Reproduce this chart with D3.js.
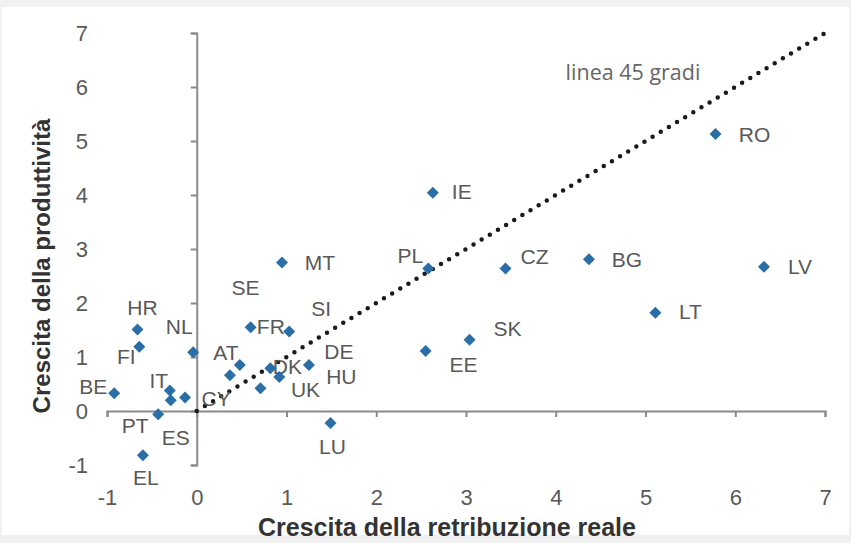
<!DOCTYPE html>
<html lang="it">
<head>
<meta charset="utf-8">
<title>Crescita della retribuzione reale e della produttività</title>
<script src="https://d3js.org/d3.v7.min.js"></script>
<style>
  body { margin: 0; background: #fff; }
  svg { display: block; font-family: "Liberation Sans", Arial, sans-serif; }
</style>
</head>
<body>
<svg width="851" height="543"></svg>
<script>
// country codes and values
var countries = ["RO","IE","PL","CZ","BG","LV","LT","SK","EE","MT","SE","FR","SI","AT","DK","DE","HU","UK","HR","FI","NL","BE","IT","ES","CY","PT","EL","LU"];
var wageGrowth = [5.78,2.63,2.58,3.44,4.37,6.32,5.11,3.04,2.55,0.95,0.60,0.48,1.03,0.37,0.82,1.25,0.92,0.71,-0.66,-0.64,-0.04,-0.92,-0.30,-0.29,-0.13,-0.43,-0.60,1.49];
var productivityGrowth = [5.13,4.04,2.64,2.64,2.81,2.67,1.82,1.32,1.11,2.75,1.55,0.85,1.47,0.66,0.79,0.85,0.63,0.42,1.51,1.19,1.09,0.33,0.38,0.20,0.25,-0.06,-0.82,-0.22];
var xTicks = [-1,0,1,2,3,4,5,6,7];
var yTicks = [-1,0,1,2,3,4,5,6,7];

// where each label sits relative to its marker (px)
var labelOffset = {
  RO:[39,1], IE:[29,-1], PL:[-18,-13], CZ:[29,-12], BG:[38,0], LV:[36,0], LT:[35,-1],
  SK:[38,-11], EE:[38,14], MT:[38,0], SE:[-5,-40], FR:[31,-38], SI:[32,-23], AT:[-4,-23],
  DK:[17,-2], DE:[30,-13], HU:[62,0], UK:[45,1], HR:[5,-22], FI:[-13,10], NL:[-14,-25],
  BE:[-21,-7], IT:[-11,-10], ES:[5,37], CY:[31,1], PT:[-23,11], EL:[3,22], LU:[2,24]
};

var data = countries.map(function(c, i) {
  return { name: c, x: wageGrowth[i], y: productivityGrowth[i] };
});

var svg = d3.select("svg");

// faint frame like the scanned original
svg.append("rect").attr("width", 851).attr("height", 543).attr("fill", "#f1f1f1");
svg.append("rect").attr("x", 2).attr("y", 7).attr("width", 847).attr("height", 528).attr("fill", "#fff");

var x = d3.scaleLinear().domain([-1, 7]).range([107, 825]);
var y = d3.scaleLinear().domain([-1, 7]).range([465, 33]);

// axes crossing at the origin
var xAxis = svg.append("g")
  .attr("transform", "translate(0," + y(0) + ")")
  .call(d3.axisBottom(x).tickValues(xTicks).tickFormat("").tickSize(6));
var yAxis = svg.append("g")
  .attr("transform", "translate(" + x(0) + ",0)")
  .call(d3.axisLeft(y).tickValues(yTicks).tickFormat("").tickSize(6));
[xAxis, yAxis].forEach(function(g) {
  g.selectAll("path, line").attr("stroke", "#8a8a8a").attr("stroke-width", 2);
});

// tick labels sit outside the plot area
var xLab = svg.append("g")
  .attr("transform", "translate(0,489)")
  .call(d3.axisBottom(x).tickValues(xTicks).tickFormat(function(d) { return String(d); }).tickSize(0).tickPadding(0));
var yLab = svg.append("g")
  .attr("transform", "translate(88,0)")
  .call(d3.axisLeft(y).tickValues(yTicks).tickFormat(function(d) { return String(d); }).tickSize(0).tickPadding(0));
[xLab, yLab].forEach(function(g) {
  g.select(".domain").remove();
  g.selectAll("text").attr("font-size", 22).attr("font-family", "Liberation Sans, Arial, sans-serif").attr("fill", "#595959");
});

// 45 degree line
svg.append("line")
  .attr("x1", x(0)).attr("y1", y(0))
  .attr("x2", x(7)).attr("y2", y(7))
  .attr("stroke", "#1a1a1a")
  .attr("stroke-width", 4.5)
  .attr("stroke-linecap", "round")
  .attr("stroke-dasharray", "0,9.5");

svg.append("text")
  .attr("x", 633).attr("y", 72).attr("dy", "0.35em")
  .attr("text-anchor", "middle")
  .attr("font-family", "Open Sans, sans-serif")
  .attr("font-size", 21.5)
  .attr("fill", "#666")
  .text("linea 45 gradi");

// country labels
svg.append("g").selectAll("text")
  .data(data).enter().append("text")
  .attr("x", function(d) { return x(d.x) + labelOffset[d.name][0]; })
  .attr("y", function(d) { return y(d.y) + labelOffset[d.name][1]; })
  .attr("dy", "0.35em")
  .attr("text-anchor", "middle")
  .attr("font-size", 21)
  .attr("fill", "#595959")
  .text(function(d) { return d.name; });

// diamond markers
svg.append("g").selectAll("path")
  .data(data).enter().append("path")
  .attr("d", d3.symbol().type(d3.symbolSquare).size(72))
  .attr("transform", function(d) { return "translate(" + x(d.x) + "," + y(d.y) + ") rotate(45)"; })
  .attr("fill", "#2a6ea8");

// axis titles
svg.append("text")
  .attr("x", 447).attr("y", 527).attr("dy", "0.35em")
  .attr("text-anchor", "middle")
  .attr("font-size", 25).attr("font-weight", "bold")
  .attr("fill", "#333")
  .text("Crescita della retribuzione reale");

svg.append("text")
  .attr("transform", "translate(42,266) rotate(-90)")
  .attr("dy", "0.35em")
  .attr("text-anchor", "middle")
  .attr("font-size", 24).attr("font-weight", "bold")
  .attr("fill", "#333")
  .text("Crescita della produttività");
</script>
</body>
</html>
